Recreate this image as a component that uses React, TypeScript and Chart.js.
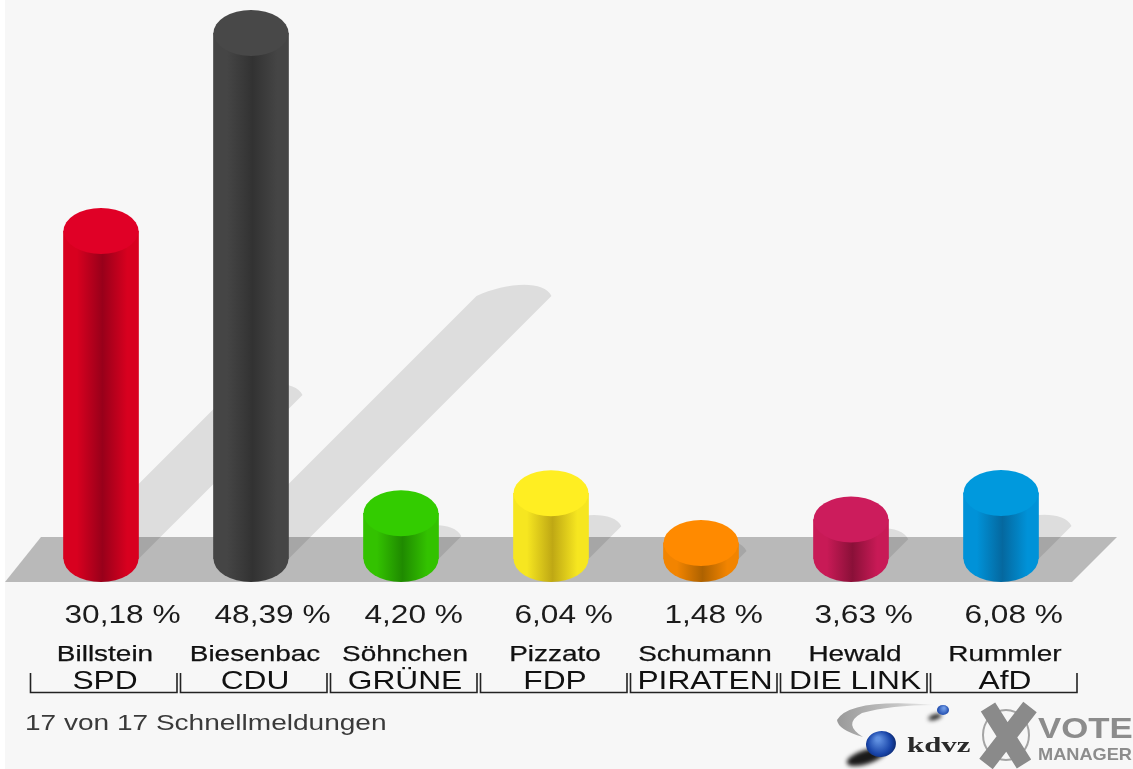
import React, { useEffect, useRef } from "react";
import { Chart, registerables } from "chart.js";

Chart.register(...registerables);

const parties = ["SPD", "CDU", "GRÜNE", "FDP", "PIRATEN", "DIE LINK", "AfD"];
const candidates = ["Billstein", "Biesenbac", "Söhnchen", "Pizzato", "Schumann", "Hewald", "Rummler"];
const shares = [30.18, 48.39, 4.2, 6.04, 1.48, 3.63, 6.08];
const shareLabels = ["30,18 %", "48,39 %", "4,20 %", "6,04 %", "1,48 %", "3,63 %", "6,08 %"];
const capColors = ["#e00026", "#484848", "#33cc00", "#ffee22", "#ff8a00", "#cc1c5c", "#0099dd"];
const edgeColors = ["#d8001f", "#454545", "#33c200", "#f6e620", "#f28400", "#c81a56", "#0092d8"];
const darkColors = ["#98001a", "#323232", "#1f8a00", "#bfa814", "#ae6200", "#8a1038", "#05689f"];
const footer = "17 von 17 Schnellmeldungen";

const RX = 37.5;
const RY = 23;
const FONT = '"Liberation Sans", Arial, sans-serif';

function stretched(ctx: CanvasRenderingContext2D, text: string, x: number, y: number, size: number, sx: number, align: CanvasTextAlign, color: string, weight = "normal", family = FONT, stroke = 0) {
  ctx.save();
  ctx.translate(x, y);
  ctx.scale(sx, 1);
  ctx.font = `${weight} ${size}px ${family}`;
  ctx.textAlign = align;
  ctx.textBaseline = "alphabetic";
  ctx.fillStyle = color;
  ctx.fillText(text, 0, 0);
  if (stroke > 0) {
    ctx.strokeStyle = color;
    ctx.lineWidth = stroke;
    ctx.strokeText(text, 0, 0);
  }
  ctx.restore();
}

function bodyGradient(ctx: CanvasRenderingContext2D, cx: number, i: number) {
  const g = ctx.createLinearGradient(cx - RX, 0, cx + RX, 0);
  g.addColorStop(0, edgeColors[i]);
  g.addColorStop(0.18, edgeColors[i]);
  g.addColorStop(0.52, darkColors[i]);
  g.addColorStop(0.85, edgeColors[i]);
  g.addColorStop(1, edgeColors[i]);
  return g;
}

function drawLogo(ctx: CanvasRenderingContext2D) {
  ctx.save();
  // swoosh
  const sw = ctx.createLinearGradient(838, 0, 935, 0);
  sw.addColorStop(0, "#9a9a9a");
  sw.addColorStop(0.6, "#c4c4c4");
  sw.addColorStop(1, "#f0f0f0");
  ctx.beginPath();
  ctx.moveTo(935, 705);
  ctx.quadraticCurveTo(850, 698, 837, 720);
  ctx.quadraticCurveTo(838, 730, 863, 737);
  ctx.quadraticCurveTo(842, 724, 862, 713);
  ctx.quadraticCurveTo(890, 705, 935, 705);
  ctx.fillStyle = sw;
  ctx.fill();
  // spheres with shadows
  ctx.save();
  ctx.filter = "blur(2px)";
  ctx.fillStyle = "#1a1a1a";
  ctx.beginPath();
  ctx.ellipse(866, 757, 20, 7, -0.3, 0, Math.PI * 2);
  ctx.fill();
  ctx.beginPath();
  ctx.ellipse(935, 717, 7, 2.5, -0.3, 0, Math.PI * 2);
  ctx.fill();
  ctx.restore();
  const big = ctx.createRadialGradient(878, 739, 2, 880, 744, 16);
  big.addColorStop(0, "#5f8fe0");
  big.addColorStop(0.7, "#1844a8");
  big.addColorStop(1, "#0d2a70");
  ctx.fillStyle = big;
  ctx.beginPath();
  ctx.ellipse(881, 744, 15, 13, -0.15, 0, Math.PI * 2);
  ctx.fill();
  const small = ctx.createRadialGradient(944, 708, 1, 943, 710, 6);
  small.addColorStop(0, "#6f9ae6");
  small.addColorStop(1, "#1844a8");
  ctx.fillStyle = small;
  ctx.beginPath();
  ctx.ellipse(943, 710, 6, 5, 0, 0, Math.PI * 2);
  ctx.fill();
  ctx.restore();
  stretched(ctx, "kdvz", 907, 752, 22, 1.4, "left", "#2a2a2a", "bold", '"Liberation Serif", serif');
  // X mark
  ctx.save();
  ctx.strokeStyle = "#a4a4a4";
  ctx.lineWidth = 2;
  ctx.beginPath();
  ctx.ellipse(1006, 735, 23, 25, 0, 0, Math.PI * 2);
  ctx.stroke();
  ctx.strokeStyle = "#8a8a8a";
  ctx.lineWidth = 17;
  ctx.beginPath();
  ctx.moveTo(988, 707);
  ctx.lineTo(1024, 764);
  ctx.moveTo(1030, 707);
  ctx.lineTo(986, 764);
  ctx.stroke();
  ctx.restore();
  stretched(ctx, "VOTE", 1038, 738, 29, 1.2, "left", "#8c8c8c", "bold");
  stretched(ctx, "MANAGER", 1038, 760, 17, 1.07, "left", "#8c8c8c", "bold");
}

const cylinderPlugin = {
  id: "cylinders",
  beforeDraw(chart: any) {
    const { ctx, width, height } = chart;
    ctx.save();
    ctx.fillStyle = "#ffffff";
    ctx.fillRect(0, 0, width, height);
    ctx.fillStyle = "#f7f7f7";
    ctx.fillRect(5, 0, width - 5, height);
    ctx.restore();
  },
  beforeDatasetsDraw(chart: any) {
    const { ctx, scales } = chart;
    const base = scales.y.getPixelForValue(0);
    const floorBottom = base + RY;
    const floorTop = floorBottom - 45;
    ctx.save();
    ctx.fillStyle = "#b9b9b9";
    ctx.beginPath();
    ctx.moveTo(5, floorBottom);
    ctx.lineTo(41, floorTop);
    ctx.lineTo(1117, floorTop);
    ctx.lineTo(1072, floorBottom);
    ctx.closePath();
    ctx.fill();
    // cast shadows: slanted bands whose length follows each bar's height
    ctx.fillStyle = "rgba(0,0,0,0.1)";
    shares.forEach((v, i) => {
      const cx = scales.x.getPixelForValue(i);
      const h = base - scales.y.getPixelForValue(v);
      const tx = cx + h * 0.5;
      const ty = base - h * 0.5;
      ctx.beginPath();
      ctx.moveTo(cx - RX, base);
      ctx.lineTo(tx - RX, ty);
      ctx.bezierCurveTo(tx - 10, ty - 13, tx + 30, ty - 17, tx + RX, ty);
      ctx.lineTo(cx + RX, base);
      ctx.ellipse(cx, base, RX, 12, 0, 0, Math.PI);
      ctx.closePath();
      ctx.fill();
    });
    ctx.restore();
    // shade each bar element the library is about to draw
    chart.getDatasetMeta(0).data.forEach((bar: any, i: number) => {
      bar.options.backgroundColor = bodyGradient(ctx, bar.x, i);
    });
  },
  afterDatasetsDraw(chart: any) {
    const { ctx, scales } = chart;
    const base = scales.y.getPixelForValue(0);
    shares.forEach((v, i) => {
      const cx = scales.x.getPixelForValue(i);
      const top = scales.y.getPixelForValue(v);
      ctx.save();
      ctx.fillStyle = bodyGradient(ctx, cx, i);
      ctx.beginPath();
      ctx.ellipse(cx, base, RX, RY, 0, 0, Math.PI);
      ctx.closePath();
      ctx.fill();
      ctx.fillStyle = capColors[i];
      ctx.beginPath();
      ctx.ellipse(cx, top, RX, RY, 0, 0, Math.PI * 2);
      ctx.fill();
      ctx.restore();
    });
  },
  afterDraw(chart: any) {
    const { ctx, scales } = chart;
    const band = 150;
    parties.forEach((party, i) => {
      const cx = scales.x.getPixelForValue(i);
      stretched(ctx, shareLabels[i], cx - RX + 1, 623, 25, 1.265, "left", "#1c1c1c");
      stretched(ctx, candidates[i], cx + 4, 661, 22, 1.27, "center", "#111111", "normal", FONT, 0.25);
      stretched(ctx, party, cx + 4, 689, 26, 1.22, "center", "#111111");
      const l = cx - band / 2 + 4.5;
      const r = cx + band / 2 + 1;
      ctx.save();
      ctx.strokeStyle = "#222222";
      ctx.lineWidth = 1.6;
      ctx.beginPath();
      ctx.moveTo(l, 673);
      ctx.lineTo(l, 692.5);
      ctx.lineTo(r, 692.5);
      ctx.lineTo(r, 673);
      ctx.stroke();
      ctx.restore();
    });
    stretched(ctx, footer, 25, 730, 22, 1.274, "left", "#3a3a3a");
    drawLogo(ctx);
  },
};

export default function App() {
  const ref = useRef<HTMLCanvasElement>(null);
  useEffect(() => {
    const canvas = ref.current!;
    const chart = new Chart(canvas, {
      type: "bar",
      data: {
        labels: parties,
        datasets: [
          {
            label: "Stimmen %",
            data: shares,
            barThickness: 75,
            borderWidth: 0,
            backgroundColor: edgeColors,
          },
        ],
      },
      options: {
        responsive: false,
        animation: false,
        devicePixelRatio: 1,
        layout: { padding: { left: 26, right: 57, top: 0, bottom: 210 } },
        plugins: { legend: { display: false }, tooltip: { enabled: false } },
        scales: {
          x: { display: false },
          y: { display: false, min: 0, max: 51.43 },
        },
      },
      plugins: [cylinderPlugin],
    } as any);
    return () => chart.destroy();
  }, []);
  return (
    <canvas
      ref={ref}
      width={1133}
      height={769}
      style={{ position: "absolute", left: 0, top: 0, width: 1133, height: 769, display: "block", filter: "blur(0.7px)" }}
    />
  );
}
